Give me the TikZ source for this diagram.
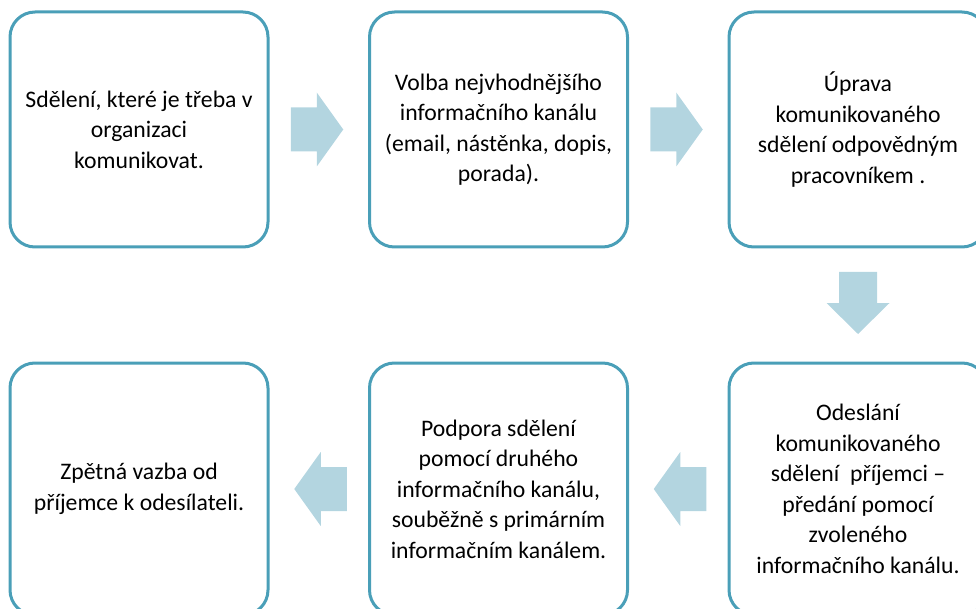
\documentclass[tikz,border=0pt]{standalone}
\usepackage{fontspec}
\setmainfont{Carlito}
\usepackage{tikz}
\usetikzlibrary{positioning, calc}
\usepackage{xcolor}
\definecolor{flowedge}{HTML}{4A9FB8}
\definecolor{flowarrow}{HTML}{B3D5E0}

\tikzset{
  stepbox/.style={draw=flowedge, line width=3pt, rounded corners=25pt, fill=white,
    minimum width=258pt, align=center, inner sep=0pt,
    font=\fontsize{23.7}{30.5}\selectfont},
  sidearrow/.pic={\fill[flowarrow] (-28,-22) -- (-2,-22) -- (-2,-37) -- (24.5,0)
    -- (-2,37) -- (-2,22) -- (-28,22) -- cycle;},
  downarrow/.pic={\fill[flowarrow] (-19,-33) -- (19,-33) -- (19,-2) -- (31.5,-2)
    -- (0,29) -- (-31.5,-2) -- (-19,-2) -- cycle;}
}

\begin{document}
\begin{tikzpicture}[x=1pt, y=-1pt]
\useasboundingbox (0,0) rectangle (976,609);
\clip (0,0) rectangle (976,609);
\node[stepbox, minimum height=235pt] (s1) at (139,129.5) {Sdělení, které je třeba v\\organizaci\\komunikovat.};
\node[stepbox, minimum height=235pt] (s2) at (498.5,129.5) {Volba nejvhodnějšího\\informačního kanálu\\(email, nástěnka, dopis,\\porada).};
\node[stepbox, minimum height=235pt] (s3) at (858,129.5) {Úprava\\komunikovaného\\sdělení odpovědným\\pracovníkem .};
\node[stepbox, minimum height=252pt] (s4) at (858,489) {Odeslání\\komunikovaného\\sdělení\ \ příjemci --\\předání pomocí\\zvoleného\\informačního kanálu.};
\node[stepbox, minimum height=252pt] (s5) at (498.5,489) {Podpora sdělení\\pomocí druhého\\informačního kanálu,\\souběžně s primárním\\informačním kanálem.};
\node[stepbox, minimum height=252pt] (s6) at (139,489) {Zpětná vazba od\\příjemce k odesílateli.};
\coordinate (a1) at ($(s1.east)!0.5!(s2.west)$);
\coordinate (a2) at ($(s2.east)!0.5!(s3.west)$);
\coordinate (a3) at ($(s3.south)!0.5!(s4.north)$);
\coordinate (a4) at ($(s4.west)!0.5!(s5.east)$);
\coordinate (a5) at ($(s5.west)!0.5!(s6.east)$);
\pic at (a1) {sidearrow};
\pic at (a2) {sidearrow};
\pic at (a3) {downarrow};
\pic[rotate=180] at (a4) {sidearrow};
\pic[rotate=180] at (a5) {sidearrow};
\end{tikzpicture}
\end{document}
